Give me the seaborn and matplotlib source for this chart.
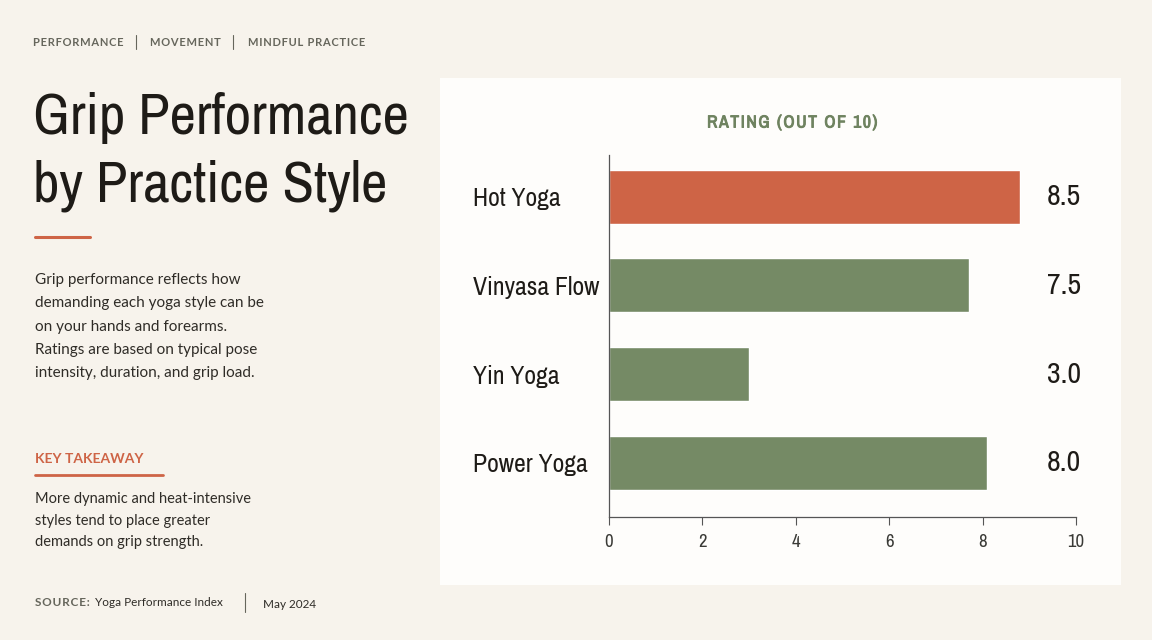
import matplotlib
matplotlib.use("Agg")
import matplotlib.pyplot as plt
from matplotlib.patches import Rectangle
from matplotlib.lines import Line2D
import matplotlib.patheffects as pe
import seaborn as sns
import pandas as pd

# ---- data ----
styles = ["Hot Yoga", "Vinyasa Flow", "Yin Yoga", "Power Yoga"]
bar_lengths = [8.8, 7.7, 3.0, 8.1]      # bar ends as drawn in the reference
ratings = [8.5, 7.5, 3.0, 8.0]          # printed value labels
bar_colors = ["#CE6446", "#758A65", "#758A65", "#758A65"]
x_ticks = [0, 2, 4, 6, 8, 10]
tags = ["PERFORMANCE", "MOVEMENT", "MINDFUL PRACTICE"]
title_lines = ["Grip Performance", "by Practice Style"]
body_lines = ["Grip performance reflects how",
              "demanding each yoga style can be",
              "on your hands and forearms.",
              "Ratings are based on typical pose",
              "intensity, duration, and grip load."]
takeaway_lines = ["More dynamic and heat-intensive",
                  "styles tend to place greater",
                  "demands on grip strength."]

BG = "#F7F3EC"
PANEL = "#FEFDFB"
ORANGE = "#CE6446"
GREEN_T = "#6F8360"
DARK = "#1E1B17"
BODY = "#2F2C27"
GRAY = "#66665C"

sns.set_theme(style="white")
NARROW = ["Archivo Narrow", "DejaVu Sans"]
SANS = ["Lato", "DejaVu Sans"]
plt.rcParams["font.family"] = SANS

W, H = 1152, 640
fig = plt.figure(figsize=(W / 100, H / 100), dpi=100, facecolor=BG)

def P(x, y):
    return x / W, 1 - y / H

def spaced(s):
    return "\u200a".join(s)

# white panel
fig.patches.append(Rectangle(P(440, 585), 681 / W, 507 / H, transform=fig.transFigure,
                             facecolor=PANEL, edgecolor="none", zorder=-10))

# tagline
tag_x = [33, 150, 248]
for tx, t in zip(tag_x, tags):
    fig.text(*P(tx, 42), spaced(t), fontsize=8, fontweight="bold", color=GRAY,
             va="center", ha="left", family=SANS)
for sx in [136, 233]:
    fig.add_artist(Line2D([sx / W, sx / W], [1 - 35 / H, 1 - 49 / H], color=GRAY, lw=0.8))

# title
for i, line in enumerate(title_lines):
    fig.text(*P(33, 134 + 67 * i), line, fontsize=41.5, color=DARK, va="baseline",
             ha="left", family=NARROW)
fig.add_artist(Line2D([35 / W, 90 / W], [1 - 237 / H] * 2, color=ORANGE, lw=2.2))

# body
for i, line in enumerate(body_lines):
    fig.text(*P(35, 280 + 23.3 * i), line, fontsize=11, color=BODY, va="center", ha="left")

# key takeaway
fig.text(*P(35, 459), "KEY TAKEAWAY", fontsize=10, fontweight="bold", color=ORANGE,
         va="center", ha="left")
fig.add_artist(Line2D([35 / W, 163 / W], [1 - 475 / H] * 2, color=ORANGE, lw=2))
for i, line in enumerate(takeaway_lines):
    fig.text(*P(35, 499 + 21.5 * i), line, fontsize=10.5, color=BODY, va="center", ha="left")

# source
fig.text(*P(35, 603), spaced("SOURCE:"), fontsize=8.5, fontweight="bold", color=GRAY, va="center")
fig.text(*P(95, 603), "Yoga Performance Index", fontsize=8.5, color=BODY, va="center")
fig.add_artist(Line2D([245 / W] * 2, [1 - 593 / H, 1 - 612 / H], color=GRAY, lw=0.8))
fig.text(*P(263, 604), "May 2024", fontsize=8.5, color=BODY, va="center")

# chart
ax = fig.add_axes([609 / W, 1 - 517 / H, 467 / W, 362 / H])
ax.set_facecolor("none")
df = pd.DataFrame({"style": styles, "length": bar_lengths})
sns.barplot(data=df, x="length", y="style", hue="style", palette=bar_colors,
            orient="h", width=0.61, legend=False, ax=ax, saturation=1)
ax.set_xlim(0, 10)
ax.set_ylim(3.61, -0.47)
ax.set_xticks(x_ticks)
ax.set_xticklabels([str(t) for t in x_ticks], family=NARROW, fontsize=13.5, color="#3A3A36")
ax.tick_params(axis="x", length=6, width=0.8, color="#555555", pad=6, direction="out",
               bottom=True)
ax.tick_params(axis="y", length=0, pad=98)
for lab in ax.get_yticklabels():
    lab.set_horizontalalignment("left")
    lab.set_fontfamily(NARROW)
    lab.set_fontsize(18.5)
    lab.set_color(DARK)
ax.set_xlabel("")
ax.set_ylabel("")
for s in ["top", "right"]:
    ax.spines[s].set_visible(False)
for s in ["left", "bottom"]:
    ax.spines[s].set_color("#555555")
    ax.spines[s].set_linewidth(0.9)

for i, r in enumerate(ratings):
    ax.text(1.0107, i, f"{r:.1f}", transform=ax.get_yaxis_transform(), ha="right",
            va="center", fontsize=21.5, family=NARROW, color=DARK)

fig.text(*P(793, 123), spaced("RATING (OUT OF 10)"), fontsize=12.5,
         color=GREEN_T, ha="center", va="center", family=NARROW,
         path_effects=[pe.withStroke(linewidth=0.7, foreground=GREEN_T)])

fig.savefig("out.png", dpi=100, facecolor=BG)
